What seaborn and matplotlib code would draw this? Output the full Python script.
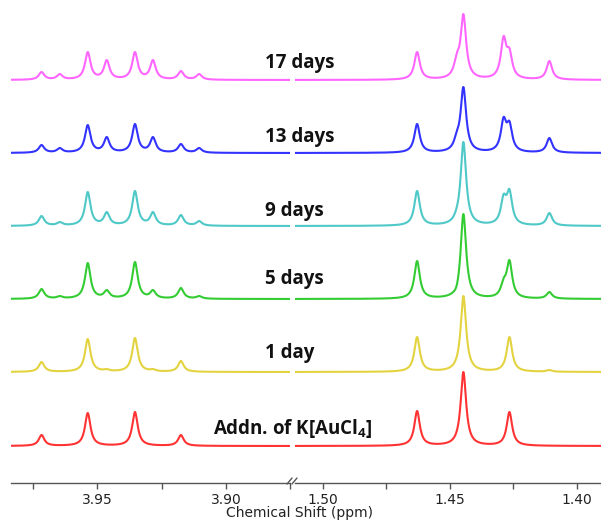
import numpy as np
import pandas as pd
import matplotlib
matplotlib.use('Agg')
import matplotlib.pyplot as plt
import seaborn as sns

sns.set_theme(style='white')
plt.rcParams['font.family'] = ['DejaVu Sans']
plt.rcParams['mathtext.default'] = 'regular'

# spectra, bottom to top
samples = ['Addn. of K[AuCl$_4$]', '1 day', '5 days', '9 days', '13 days', '17 days']
colors = ['#ff3333', '#e3d340', '#33cc33', '#4fc8c8', '#3333ff', '#ff66ff']
offsets = [37, 111, 184, 257, 330, 403]

# peak positions (ppm) for the two windows
left_shifts = [3.9718, 3.9647, 3.9538, 3.9464, 3.9354, 3.9284, 3.9175, 3.9104]
right_shifts = [1.4629, 1.4473, 1.4447, 1.4289, 1.4266, 1.4109]

# apparent peak heights (0 = no peak)
left_addn = [11, 0, 33, 0, 34, 0, 11, 0]
left_1d = [10, 0, 33, 3, 34, 3, 11, 0]
left_5d = [10, 3, 36, 9, 37, 9, 11, 3]
left_9d = [10, 4, 34, 14, 35, 14, 11, 5]
left_13d = [8, 5, 28, 16, 29, 16, 9, 5]
left_17d = [8, 6, 28, 20, 28, 20, 9, 6]

right_addn = [35, 0, 74, 0, 34, 0]
right_1d = [35, 0, 76, 0, 35, 2]
right_5d = [38, 14, 85, 21, 39, 7]
right_9d = [35, 19, 84, 32, 37, 13]
right_13d = [29, 22, 66, 36, 32, 15]
right_17d = [28, 27, 66, 44, 32, 19]

left_heights = [left_addn, left_1d, left_5d, left_9d, left_13d, left_17d]
right_heights = [right_addn, right_1d, right_5d, right_9d, right_13d, right_17d]

left_lim = (3.9837, 3.8750)
right_lim = (1.5109, 1.3906)
hwhm = 0.0013


def lorentz(x, x0):
    return 1.0 / (1.0 + ((x - x0) / hwhm) ** 2)


def build_frame(shifts, heights, lim):
    # amplitudes chosen so that the summed curve hits the read heights at the peaks
    ppm = np.linspace(lim[0], lim[1], 3000)
    rows = []
    for name, hs, off in zip(samples, heights, offsets):
        pos = [s for s, h in zip(shifts, hs) if h > 0]
        hh = [h for h in hs if h > 0]
        M = np.array([[lorentz(a, b) for b in pos] for a in pos])
        amps = np.linalg.solve(M, np.array(hh, dtype=float))
        y = np.zeros_like(ppm)
        for p, a in zip(pos, amps):
            y += a * lorentz(ppm, p)
        rows.append(pd.DataFrame({'ppm': ppm, 'y': y + off, 'sample': name}))
    return pd.concat(rows, ignore_index=True)


df_left = build_frame(left_shifts, left_heights, left_lim)
df_right = build_frame(right_shifts, right_heights, right_lim)

W, H = 601, 521
fig = plt.figure(figsize=(W / 100, H / 100), dpi=100)
fig.patch.set_facecolor('white')
ax_l = fig.add_axes([11 / W, 38 / H, (290 - 11) / W, 483 / H])
ax_r = fig.add_axes([295 / W, 38 / H, (W - 295) / W, 483 / H])

pal = dict(zip(samples, colors))
for ax, df, lim, major, minor in [
        (ax_l, df_left, left_lim, [3.95, 3.90], [3.975, 3.925, 3.875]),
        (ax_r, df_right, right_lim, [1.50, 1.45, 1.40], [1.475, 1.425])]:
    sns.lineplot(data=df, x='ppm', y='y', hue='sample', palette=pal,
                 estimator=None, sort=False, legend=False, lw=1.5, ax=ax)
    ax.set_xlim(*lim)
    ax.set_ylim(0, 483)
    ax.patch.set_visible(False)
    for s in ['top', 'left', 'right']:
        ax.spines[s].set_visible(False)
    ax.spines['bottom'].set_color('#555555')
    ax.spines['bottom'].set_linewidth(1.0)
    ax.set_yticks([])
    ax.set_xticks(major)
    ax.set_xticklabels(['%.2f' % v for v in major])
    ax.set_xticks(minor, minor=True)
    ax.tick_params(axis='x', which='both', bottom=True, direction='out',
                   length=4, width=1, color='#555555', pad=3.5,
                   labelsize=10, labelcolor='#222222')
    ax.set_xlabel('')
    ax.set_ylabel('')

# axis break marks
for dx in (0, 5):
    fig.add_artist(plt.Line2D([(287 + dx) / W, (292 + dx) / W],
                              [(521 - 484) / H, (521 - 478) / H],
                              color='#555555', lw=1.0))

fig.text(300 / W, (521 - 513) / H, 'Chemical Shift (ppm)', ha='center',
         va='center', fontsize=10, color='#222222')

# spectrum labels
label_pos = [(213, 428), (265, 353), (265, 279), (265, 211), (265, 137), (265, 63)]
for name, (px, py) in zip(samples, label_pos):
    fig.text(px / W, (521 - py) / H, name, ha='left', va='center',
             fontsize=13.5, fontweight='bold', family=['Open Sans', 'DejaVu Sans'],
             color='#111111')

fig.savefig('out.png', dpi=100)
